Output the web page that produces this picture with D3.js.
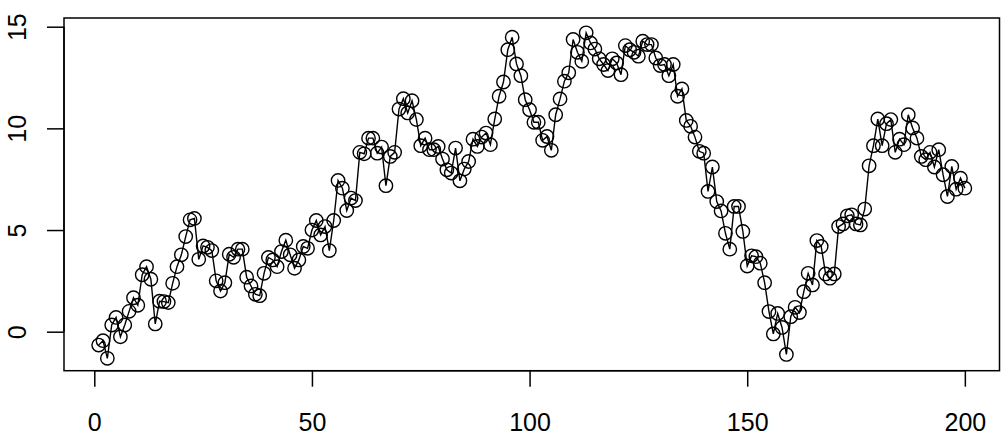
<!DOCTYPE html>
<html><head><meta charset="utf-8">
<script src="https://cdn.jsdelivr.net/npm/d3@7"></script>
<style>html,body{margin:0;padding:0;background:#fff;}svg{display:block;}</style>
</head><body>
<script>
const values = [
-0.66,-0.44,-1.31,0.33,0.7,-0.25,0.33,1.0,1.67,1.3,
2.8,3.2,2.58,0.38,1.5,1.48,1.43,2.38,3.2,3.78,
4.68,5.5,5.57,3.56,4.22,4.15,3.99,2.5,2.0,2.41,
3.81,3.66,4.06,4.06,2.68,2.25,1.84,1.77,2.87,3.65,
3.53,3.2,3.94,4.5,3.78,3.12,3.53,4.19,4.1,5.0,
5.47,4.76,5.17,3.99,5.47,7.44,7.06,5.96,6.57,6.45,
8.82,8.75,9.52,9.52,8.78,9.08,7.18,8.62,8.82,10.95,
11.46,10.76,11.36,10.43,9.15,9.52,8.95,8.95,9.11,8.49,
7.96,7.8,9.03,7.42,8.0,8.37,9.47,9.11,9.57,9.77,
9.2,10.46,11.58,12.28,13.87,14.48,13.17,12.59,11.41,10.92,
10.3,10.3,9.41,9.6,8.92,10.67,11.45,12.32,12.73,14.37,
13.74,13.3,14.7,14.2,13.9,13.42,13.14,12.84,13.42,13.22,
12.64,14.07,13.87,13.74,13.55,14.29,14.12,14.12,13.46,13.09,
13.14,12.59,13.14,11.58,11.94,10.39,10.1,9.57,8.87,8.78,
6.9,8.1,6.4,5.94,4.84,4.06,6.16,6.16,4.93,3.23,
3.73,3.69,3.37,2.41,0.99,-0.11,0.9,0.21,-1.12,0.74,
1.2,0.94,1.97,2.87,2.3,4.48,4.19,2.84,2.63,2.84,
5.17,5.3,5.7,5.75,5.3,5.25,6.03,8.16,9.15,10.46,
9.15,10.23,10.43,8.82,9.47,9.2,10.67,10.02,9.52,8.62,
8.46,8.82,8.1,8.95,7.72,6.65,8.13,7.01,7.55,7.06
];
const index = values.map((v,i)=>i+1);
const xTicks = [0,50,100,150,200];
const yTicks = [0,5,10,15];

const W=1006,H=443;
const box={left:64,right:999.5,top:18,bottom:370.7};
const n=values.length;
const pad=0.04*(n-1);
const x=d3.scaleLinear().domain([1-pad,n+pad]).range([box.left,box.right]);
const y=d3.scaleLinear().domain([0,15]).range([331.7,26.7]);

const svg=d3.select("body").append("svg").attr("width",W).attr("height",H);

svg.append("rect").attr("x",box.left).attr("y",box.top)
 .attr("width",box.right-box.left).attr("height",box.bottom-box.top)
 .attr("fill","none").attr("stroke","#000").attr("stroke-width",1.5);

const xAxis=svg.append("g").attr("transform",`translate(0,${box.bottom})`)
 .call(d3.axisBottom(x).tickValues(xTicks).tickSize(16).tickPadding(27).tickSizeOuter(0));
xAxis.select(".domain").attr("d",`M${x(0)},0H${x(200)}`).attr("stroke-width",1.5);
xAxis.selectAll(".tick line").attr("stroke-width",1.5);
xAxis.selectAll("text").attr("font-family","'Liberation Sans',Arial,sans-serif").attr("font-size",25).attr("fill","#000");

const yAxis=svg.append("g").attr("transform",`translate(${box.left},0)`)
 .call(d3.axisLeft(y).tickValues(yTicks).tickSize(17).tickSizeOuter(0));
yAxis.select(".domain").attr("d",`M0,${y(0)}V${y(15)}`).attr("stroke-width",1.5);
yAxis.selectAll(".tick line").attr("stroke-width",1.5);
yAxis.selectAll("text").remove();
yAxis.selectAll(".tick").append("text")
 .attr("transform",`translate(-38,0) rotate(-90)`)
 .attr("text-anchor","middle").attr("fill","#000")
 .attr("font-family","'Liberation Sans',Arial,sans-serif").attr("font-size",25)
 .text(d=>d);

const pts=index.map((d,i)=>[d,values[i]]);
const r=6.7;
svg.append("path").datum(pts)
 .attr("d",d3.line().x(d=>x(d[0])).y(d=>y(d[1])))
 .attr("fill","none").attr("stroke","#000").attr("stroke-width",1.4);
svg.append("g").selectAll("circle").data(pts).join("circle")
 .attr("cx",d=>x(d[0])).attr("cy",d=>y(d[1])).attr("r",r)
 .attr("fill","none").attr("stroke","#000").attr("stroke-width",1.4);
</script>
</body></html>
